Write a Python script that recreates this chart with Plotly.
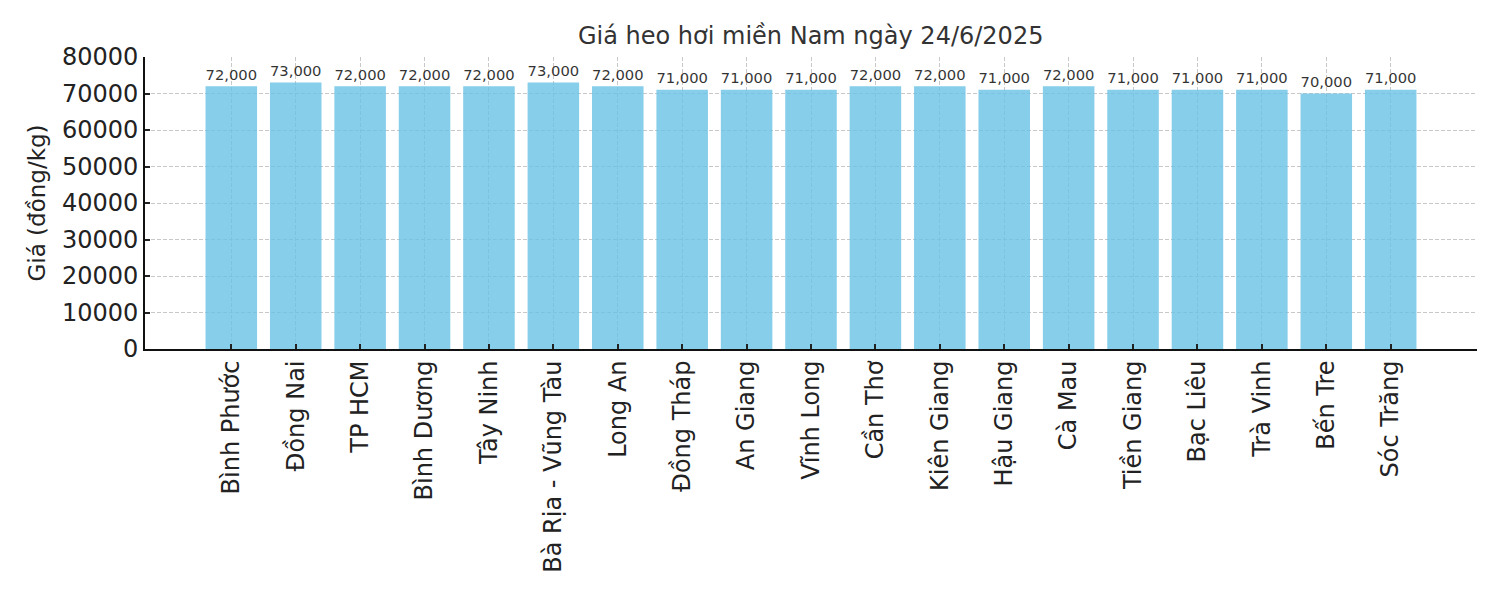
import plotly.graph_objects as go

# du lieu gia heo hoi mien Nam 24/6/2025
provinces = ["Bình Phước", "Đồng Nai", "TP HCM", "Bình Dương", "Tây Ninh",
             "Bà Rịa - Vũng Tàu", "Long An", "Đồng Tháp", "An Giang", "Vĩnh Long",
             "Cần Thơ", "Kiên Giang", "Hậu Giang", "Cà Mau", "Tiền Giang",
             "Bạc Liêu", "Trà Vinh", "Bến Tre", "Sóc Trăng"]
prices = [72000, 73000, 72000, 72000, 72000, 73000, 72000, 71000, 71000, 71000,
          72000, 72000, 71000, 72000, 71000, 71000, 71000, 70000, 71000]
y_ticks = [0, 10000, 20000, 30000, 40000, 50000, 60000, 70000, 80000]

fig = go.Figure()
# opacity 0.8 so the dashed grid shows through, text black -> looks #333
fig.add_trace(go.Bar(
    x=list(range(len(provinces))), y=prices,
    width=0.8,
    marker=dict(color="rgb(105,194,230)", line=dict(width=0)),
    opacity=0.8,
    text=[f"{v:,}" for v in prices],
    textposition="outside",
    cliponaxis=False,
    textfont=dict(family="DejaVu Sans", size=16, color="#000000"),
))

# page body has 8px margin, so figure is a bit smaller
fig.update_layout(
    width=1492, height=592,
    paper_bgcolor="white", plot_bgcolor="white",
    margin=dict(l=137, r=23, t=49, b=251),
    showlegend=False,
    title=dict(text="Giá heo hơi miền Nam ngày 24/6/2025",
               font=dict(family="DejaVu Sans", size=24, color="#333333"),
               x=0.538, xanchor="center", y=0.953, yanchor="middle"),
    font=dict(family="DejaVu Sans", color="#222222"),
)

fig.update_xaxes(
    range=[-1.34, 19.34], automargin=False,
    tickmode="array", tickvals=list(range(len(provinces))), ticktext=provinces,
    tickangle=-90, tickfont=dict(family="DejaVu Sans", size=24, color="#222222"),
    ticks="inside", ticklen=5, tickwidth=1.5, tickcolor="#222222",
    showline=True, linecolor="#111111", linewidth=1.8,
    showgrid=True, gridcolor="#c8c8c8", griddash="4px,2px", gridwidth=1,
    zeroline=False,
)
fig.update_yaxes(
    range=[0, 80000], automargin=False,
    tickmode="array", tickvals=y_ticks, ticktext=[str(v) for v in y_ticks],
    tickfont=dict(family="DejaVu Sans", size=24, color="#222222"),
    ticks="inside", ticklen=5, tickwidth=1.5, tickcolor="#222222",
    showline=True, linecolor="#111111", linewidth=1.8,
    showgrid=True, gridcolor="#c8c8c8", griddash="4px,2px", gridwidth=1,
    zeroline=False,
    title=dict(text="Giá (đồng/kg)", font=dict(family="DejaVu Sans", size=23, color="#222222"),
               standoff=10),
)

fig.write_html("out.html")
